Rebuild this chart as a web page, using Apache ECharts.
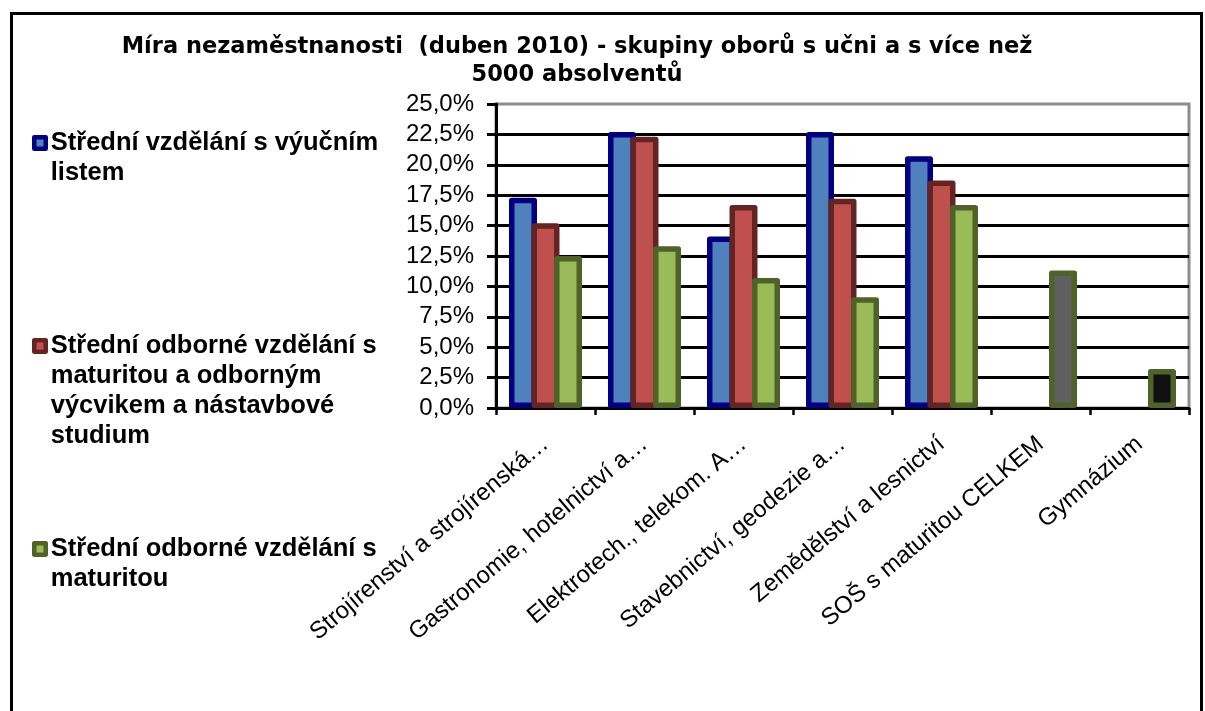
<!DOCTYPE html>
<html>
<head>
<meta charset="utf-8">
<script src="https://cdn.jsdelivr.net/npm/echarts@6/dist/echarts.min.js"></script>
<style>
  html, body { margin: 0; padding: 0; background: #ffffff; }
  #chart { width: 1205px; height: 711px; }
</style>
</head>
<body>
<div id="chart"></div>
<script>
// ---- data ----
const titleText = 'Míra nezaměstnanosti  (duben 2010) - skupiny oborů s učni a s více než\n5000 absolventů';
const categories = [
  'Strojírenství a strojírenská…',
  'Gastronomie, hotelnictví a…',
  'Elektrotech., telekom. A…',
  'Stavebnictví, geodezie a…',
  'Zemědělství a lesnictví',
  'SOŠ s maturitou CELKEM',
  'Gymnázium'
];
const seriesNames = [
  'Střední vzdělání s výučním listem',
  'Střední odborné vzdělání s maturitou a odborným výcvikem a nástavbové studium',
  'Střední odborné vzdělání s maturitou'
];
const legendLines = [
  ['Střední vzdělání s výučním', 'listem'],
  ['Střední odborné vzdělání s', 'maturitou a odborným', 'výcvikem a nástavbové', 'studium'],
  ['Střední odborné vzdělání s', 'maturitou']
];
const vyucniList = [17.3, 22.7, 14.1, 22.7, 20.7, null, null];
const maturitaVycvik = [15.2, 22.3, 16.7, 17.2, 18.7, null, null];
const maturita = [12.5, 13.3, 10.7, 9.1, 16.7, 11.3, 3.2];
const yMin = 0, yMax = 25, yStep = 2.5;

// ---- styles (kept apart from data) ----
const fills = ['#4F81BD', '#C0504D', '#9BBB59'];
const borders = ['#000080', '#632523', '#4F6228'];
const maturitaPointFills = [null, null, null, null, null, '#5F5F5F', '#111111'];
const legendIconCenters = [143, 346, 549];
const LH = 30;

const chart = echarts.init(document.getElementById('chart'), null, { renderer: 'canvas' });

const valueArrays = [vyucniList, maturitaVycvik, maturita];
const series = valueArrays.map((vals, i) => ({
  name: seriesNames[i],
  type: 'bar',
  barWidth: 28,
  barGap: '-19.6%',
  data: vals.map((v, j) => {
    if (i === 2 && maturitaPointFills[j]) {
      return { value: v, itemStyle: { color: maturitaPointFills[j] } };
    }
    return v;
  }),
  itemStyle: {
    color: fills[i],
    borderColor: borders[i],
    borderWidth: 5.5,
    borderJoin: 'round'
  },
  emphasis: { disabled: true },
  animation: false
}));

const legends = seriesNames.map((name, i) => {
  const n = legendLines[i].length;
  const pre = new Array(n - 1).fill('').join('\n');
  return {
    data: [name],
    left: 32,
    top: legendIconCenters[i] - (2 * n - 1) * LH / 2,
    orient: 'vertical',
    padding: 0,
    icon: 'rect',
    itemWidth: 11.5,
    itemHeight: 11.5,
    itemGap: 0,
    itemStyle: { borderWidth: 4.5 },
    selectedMode: false,
    formatter: () => (n > 1 ? pre + '\n' : '') + legendLines[i].join('\n'),
    textStyle: {
      fontFamily: '"Liberation Sans", Arial, sans-serif',
      fontWeight: 'bold',
      fontSize: 25.5,
      lineHeight: LH,
      color: '#000'
    }
  };
});

const option = {
  backgroundColor: '#ffffff',
  animation: false,
  title: {
    text: titleText,
    left: 577,
    top: 33,
    padding: 0,
    textAlign: 'center',
    textStyle: {
      fontFamily: '"DejaVu Sans", Verdana, sans-serif',
      fontWeight: 'bold',
      fontSize: 22.5,
      lineHeight: 28,
      color: '#000'
    }
  },
  legend: legends,
  grid: {
    left: 496,
    right: 16,
    top: 104,
    bottom: 303,
    show: true,
    borderColor: '#8C8C8C',
    borderWidth: 3,
    backgroundColor: 'transparent'
  },
  xAxis: {
    type: 'category',
    data: categories,
    axisLine: { lineStyle: { color: '#000', width: 3 } },
    axisTick: { show: true, interval: 0, length: 7, lineStyle: { color: '#000', width: 2.5 } },
    axisLabel: {
      interval: 0,
      rotate: 40,
      margin: 33,
      fontFamily: '"Liberation Sans", Arial, sans-serif',
      fontSize: 24,
      color: '#000'
    },
    splitLine: { show: false }
  },
  yAxis: {
    type: 'value',
    min: yMin,
    max: yMax,
    interval: yStep,
    axisLine: { show: true, lineStyle: { color: '#000', width: 3 } },
    axisTick: { show: true, length: 9, lineStyle: { color: '#000', width: 3 } },
    axisLabel: {
      margin: 22,
      fontFamily: '"Liberation Sans", Arial, sans-serif',
      fontSize: 24,
      color: '#000',
      formatter: v => v.toFixed(1).replace('.', ',') + '%'
    },
    splitLine: { show: true, showMaxLine: false, showMinLine: false, lineStyle: { color: '#000', width: 3 } }
  },
  series: series,
  graphic: [{
    type: 'rect',
    shape: { x: 11.5, y: 13.5, width: 1190, height: 760 },
    style: { fill: 'none', stroke: '#000', lineWidth: 3 },
    silent: true,
    z: 100
  }]
};

chart.setOption(option);
</script>
</body>
</html>
